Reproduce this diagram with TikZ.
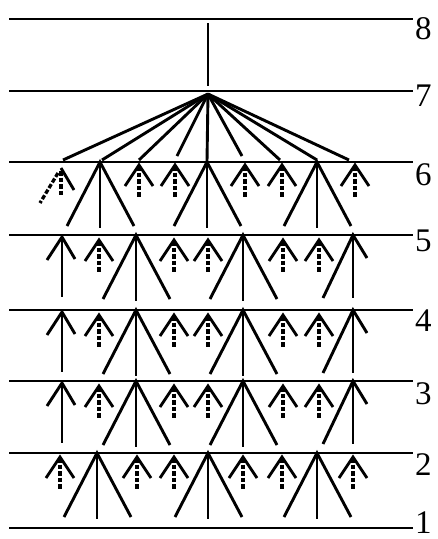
\documentclass[tikz,border=0pt]{standalone}
\usepackage{fontspec}
\setmainfont{Liberation Serif}
\begin{document}
\begin{tikzpicture}[x=1pt,y=-1pt,
  lw/.style={line width=2.9pt},
  dsh/.style={line width=3.3pt, dash pattern=on 4.5pt off 2pt},
  lbl/.style={anchor=north west, inner sep=0pt, font=\fontsize{33}{38}\selectfont},
  pics/darrow/.style={code={
    \draw[dsh] (0,1) -- (0,32);
    \draw[lw] (-14,21) -- (0,0) -- (14,21);
  }},
  pics/sarrow/.style={code={
    \draw[lw] (0,0) -- (0,60);
    \draw[lw] (-15,23) -- (0,0) -- (13,22);
  }},
  pics/fan/.style={code={
    \draw[lw] (-33,64) -- (0,0) -- (34,64);
    \draw[lw] (0,0) -- (0,66);
  }},
  pics/halffan/.style={code={
    \draw[lw] (-30,63) -- (0,0) -- (14,23);
    \draw[lw] (0,0) -- (0,63);
  }}
]
\useasboundingbox (0,0) rectangle (438,539);

% horizontal levels
\foreach \y/\n/\dy in {19/8/-2, 91/7/-6, 162/6/1, 235/5/-5, 310/4/0, 381/3/1, 453/2/0, 528/1/-16}{
  \draw[lw] (9,\y) -- (413,\y);
  \node[lbl] (l\n) at (415,\y+\dy) {\n};
}

% 8 -> 7
\coordinate (top) at (208,23);
\coordinate (bot) at (208,86);
\draw[lw] (top) -- (bot);

% fan from 7 to 6
\coordinate (apex) at (208,94);
\foreach \x/\e in {63/160, 102/160, 139/160, 177/156, 207/162, 242/156, 280/160, 317/160, 349/160}{
  \draw[lw] (apex) -- (\x,\e);
}

% band 6-5
\coordinate (sp) at (61,168);
\draw[dsh] (61,171) -- (61,197);
\draw[lw] (sp) -- (74,190);
\draw[dsh] (58,173) -- (40,203);
\pic at (100,162) {fan};
\pic at (139,165) {darrow};
\pic at (175,165) {darrow};
\pic at (207,162) {fan};
\pic at (245,165) {darrow};
\pic at (282,165) {darrow};
\pic at (317,162) {fan};
\pic at (355,165) {darrow};

% bands 5-4, 4-3, 3-2
\foreach \y in {235,310,381}{
  \pic at (62,\y+2) {sarrow};
  \pic at (99,\y+5) {darrow};
  \pic at (136,\y) {fan};
  \pic at (174,\y+5) {darrow};
  \pic at (208,\y+5) {darrow};
  \pic at (243,\y) {fan};
  \pic at (283,\y+5) {darrow};
  \pic at (319,\y+5) {darrow};
  \pic at (353,\y) {halffan};
}

% band 2-1
\pic at (60,457) {darrow};
\pic at (97,453) {fan};
\pic at (137,457) {darrow};
\pic at (174,457) {darrow};
\pic at (208,453) {fan};
\pic at (243,457) {darrow};
\pic at (282,457) {darrow};
\pic at (317,453) {fan};
\pic at (353,457) {darrow};
\end{tikzpicture}
\end{document}
